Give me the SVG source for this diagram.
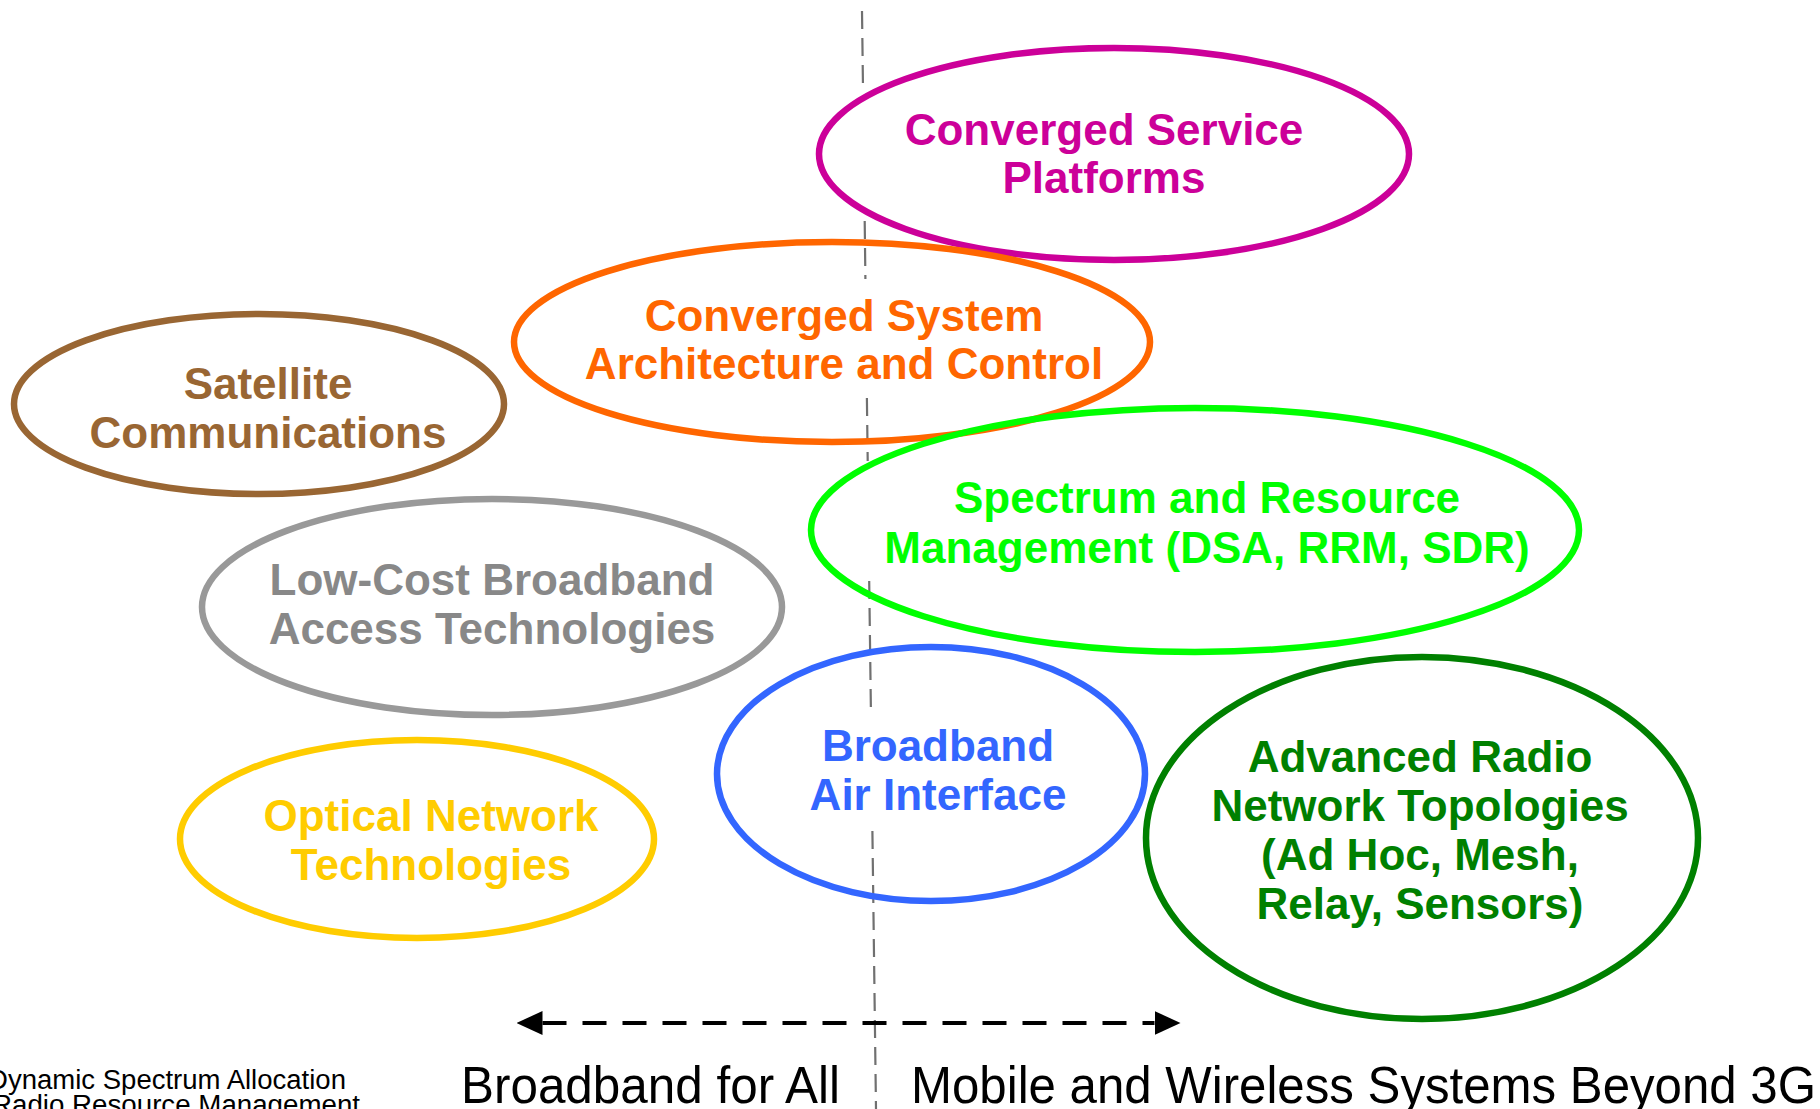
<svg xmlns="http://www.w3.org/2000/svg" width="1820" height="1109" viewBox="0 0 1820 1109">
<style>
.e{fill:none;stroke-width:6.5}
.t{font-family:"Liberation Sans",Arial,sans-serif;font-weight:bold;font-size:44px;text-anchor:middle}
.b{font-family:"Liberation Sans",Arial,sans-serif;font-size:52px}
.s{font-family:"Liberation Sans",Arial,sans-serif;font-size:27px}
.v{stroke:#707070;stroke-width:2.2;stroke-dasharray:18 9;fill:none}
.h{stroke:#000;stroke-width:4;stroke-dasharray:24 16;fill:none}
</style>
<defs>
<marker id="ah" viewBox="0 0 26 24" refX="0" refY="12" markerWidth="26" markerHeight="24" markerUnits="userSpaceOnUse" orient="auto-start-reverse">
<path d="M0,0 L26,12 L0,24 z" fill="#000"/>
</marker>
</defs>
<rect width="1820" height="1109" fill="#fff"/>
<g id="connectors">
<line class="v" x1="862" y1="11" x2="863" y2="88"/>
<line class="v" x1="864.7" y1="221" x2="865.4" y2="279"/>
<line class="v" x1="866.9" y1="398" x2="867.7" y2="461"/>
<line class="v" x1="869.2" y1="581" x2="870.9" y2="710"/>
<line class="v" x1="872.4" y1="831" x2="876" y2="1109"/>
<line class="h" x1="542.5" y1="1023" x2="1154.5" y2="1023" marker-start="url(#ah)" marker-end="url(#ah)"/>
</g>
<g id="converged-service">
<ellipse class="e" cx="1114" cy="154" rx="295" ry="106" stroke="#CC0099"/>
<text class="t" fill="#CC0099"><tspan x="1104" y="145">Converged Service</tspan><tspan x="1104" y="193">Platforms</tspan></text>
</g>
<g id="converged-system">
<ellipse class="e" cx="832" cy="342" rx="318" ry="100" stroke="#FF6600"/>
<text class="t" fill="#FF6600"><tspan x="844" y="331">Converged System</tspan><tspan x="844" y="379">Architecture and Control</tspan></text>
</g>
<g id="satellite">
<ellipse class="e" cx="259" cy="404" rx="245" ry="90" stroke="#996633"/>
<text class="t" fill="#996633"><tspan x="268" y="399">Satellite</tspan><tspan x="268" y="448">Communications</tspan></text>
</g>
<g id="low-cost">
<ellipse class="e" cx="492" cy="607" rx="290" ry="108" stroke="#999999"/>
<text class="t" fill="#888888"><tspan x="492" y="595">Low-Cost Broadband</tspan><tspan x="492" y="644">Access Technologies</tspan></text>
</g>
<g id="spectrum">
<ellipse class="e" cx="1195" cy="530" rx="384" ry="122" stroke="#00FF00"/>
<text class="t" fill="#00FF00"><tspan x="1207" y="513">Spectrum and Resource</tspan><tspan x="1207" y="563">Management (DSA, RRM, SDR)</tspan></text>
</g>
<g id="air-interface">
<ellipse class="e" cx="931" cy="774" rx="214" ry="127" stroke="#3366FF"/>
<text class="t" fill="#3366FF"><tspan x="938" y="761">Broadband</tspan><tspan x="938" y="810">Air Interface</tspan></text>
</g>
<g id="radio-topologies">
<ellipse class="e" cx="1422" cy="838" rx="276" ry="181" stroke="#008000"/>
<text class="t" fill="#008000"><tspan x="1420" y="772">Advanced Radio</tspan><tspan x="1420" y="821">Network Topologies</tspan><tspan x="1420" y="870">(Ad Hoc, Mesh,</tspan><tspan x="1420" y="919">Relay, Sensors)</tspan></text>
</g>
<g id="optical">
<ellipse class="e" cx="417" cy="839" rx="237" ry="99" stroke="#FFCC00"/>
<text class="t" fill="#FFCC00"><tspan x="431" y="831">Optical Network</tspan><tspan x="431" y="880">Technologies</tspan></text>
</g>
<g id="labels">
<text class="b" x="461" y="1103" textLength="379" lengthAdjust="spacingAndGlyphs">Broadband for All</text>
<text class="b" x="911" y="1103" textLength="905" lengthAdjust="spacingAndGlyphs">Mobile and Wireless Systems Beyond 3G</text>
<text class="s" x="-12" y="1089" textLength="358" lengthAdjust="spacingAndGlyphs">Dynamic Spectrum Allocation</text>
<text class="s" x="-8" y="1114" textLength="368" lengthAdjust="spacingAndGlyphs">Radio Resource Management</text>
</g>
</svg>
